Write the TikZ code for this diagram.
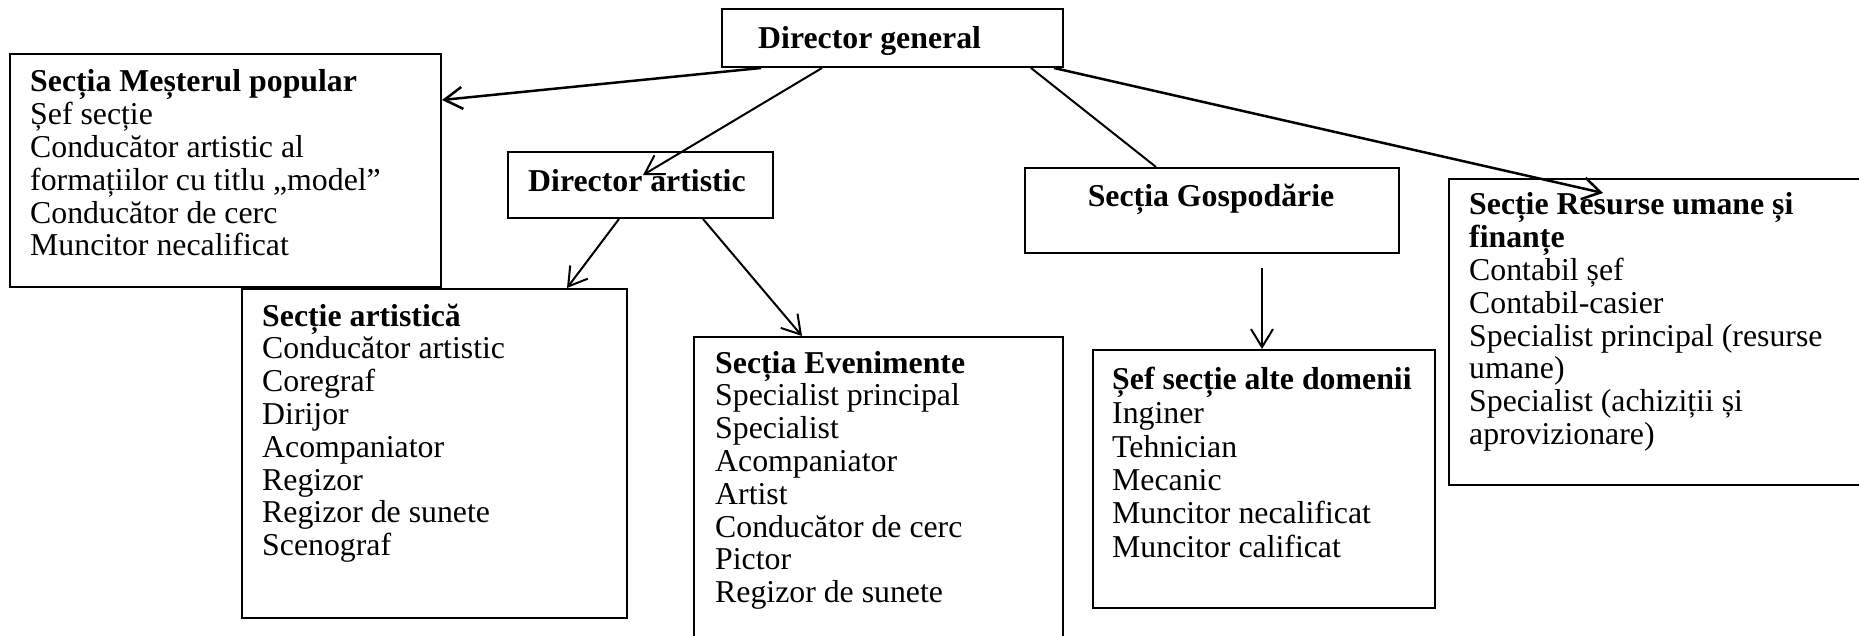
\documentclass[tikz,border=0pt]{standalone}
\usepackage{fontspec}
\setmainfont{Liberation Serif}
\usetikzlibrary{arrows.meta}
\newcommand{\boxw}{2pt}
\newcommand{\tsize}{\fontsize{31.8pt}{32.8pt}\selectfont}

\begin{document}
\begin{tikzpicture}[x=1pt,y=-1pt,font=\tsize,
  orgbox/.style={draw, line width=\boxw, inner sep=0pt, anchor=north west},
  txt/.style={inner sep=0pt, anchor=base west},
  arr/.style={line width=2pt, -{Straight Barb[length=18pt,width=22pt]}}]
  \useasboundingbox (0,0) rectangle (1859,636);
  % boxes
  \node (dg) at (721,8) [orgbox, minimum width=341pt, minimum height=58pt] {};
  \node (mester) at (9,53) [orgbox, minimum width=431pt, minimum height=233pt] {};
  \node (dirart) at (507,151) [orgbox, minimum width=265pt, minimum height=66pt] {};
  \node (gosp) at (1024,167) [orgbox, minimum width=374pt, minimum height=85pt] {};
  \node (resurse) at (1448,178) [orgbox, minimum width=430pt, minimum height=306pt] {};
  \node (art) at (241,288) [orgbox, minimum width=385pt, minimum height=329pt] {};
  \node (even) at (693,336) [orgbox, minimum width=369pt, minimum height=320pt] {};
  \node (sef) at (1092,349) [orgbox, minimum width=342pt, minimum height=258pt] {};

  % texts
  \node (dgT) at (758,49) [txt] {\bfseries Director general};
  \node (dirartT) at (528,192) [txt] {\bfseries Director artistic};
  \node (gospT) at (1211,207) [inner sep=0pt, anchor=base] {\bfseries Secția Gospodărie};
  \node (mesterT) at (30,92) [txt] {\begin{tabular}[t]{@{}l@{}}\textbf{Secția Meșterul popular}\\Șef secție\\Conducător artistic al\\formațiilor cu titlu „model”\\Conducător de cerc\\Muncitor necalificat\end{tabular}};
  \node (artT) at (262,326) [txt] {\begin{tabular}[t]{@{}l@{}}\textbf{Secție artistică}\\Conducător artistic\\Coregraf\\Dirijor\\Acompaniator\\Regizor\\Regizor de sunete\\Scenograf\end{tabular}};
  \node (evenT) at (715,373) [txt] {\begin{tabular}[t]{@{}l@{}}\textbf{Secția Evenimente}\\Specialist principal\\Specialist\\Acompaniator\\Artist\\Conducător de cerc\\Pictor\\Regizor de sunete\end{tabular}};
  \node (sefT) at (1112,389) [txt] {\begin{tabular}[t]{@{}l@{}}\textbf{Șef secție alte domenii}\\[2pt]Inginer\\[0.5pt]Tehnician\\[0.5pt]Mecanic\\[0.5pt]Muncitor necalificat\\[0.5pt]Muncitor calificat\end{tabular}};
  \node (resurseT) at (1469,215) [txt] {\begin{tabular}[t]{@{}l@{}}\textbf{Secție Resurse umane și}\\\textbf{finanțe}\\Contabil șef\\Contabil-casier\\Specialist principal (resurse\\umane)\\Specialist (achiziții și\\aprovizionare)\end{tabular}};

  % links
  \draw[arr, line width=2.5pt] ([xshift=40pt]dg.south west) -- ([yshift=-47pt]mester.north east);
  \draw[arr] ([xshift=101pt]dg.south west) -- ([xshift=136pt,yshift=-24pt]dirart.north west);
  \draw[line width=2pt] ([xshift=-33pt]dg.south east) -- ([xshift=132pt]gosp.north west);
  \draw[arr, line width=2.5pt] ([xshift=-10pt]dg.south east) -- ([xshift=155pt,yshift=-15pt]resurse.north west);
  \draw[arr] ([xshift=112pt]dirart.south west) -- ([xshift=326pt]art.north west);
  \draw[arr] ([xshift=196pt]dirart.south west) -- ([xshift=109pt]even.north west);
  \coordinate (gospOut) at ([xshift=238pt,yshift=-14pt]gosp.south west);
  \draw[arr] (gospOut) -- ([xshift=170pt]sef.north west);
\end{tikzpicture}
\end{document}
